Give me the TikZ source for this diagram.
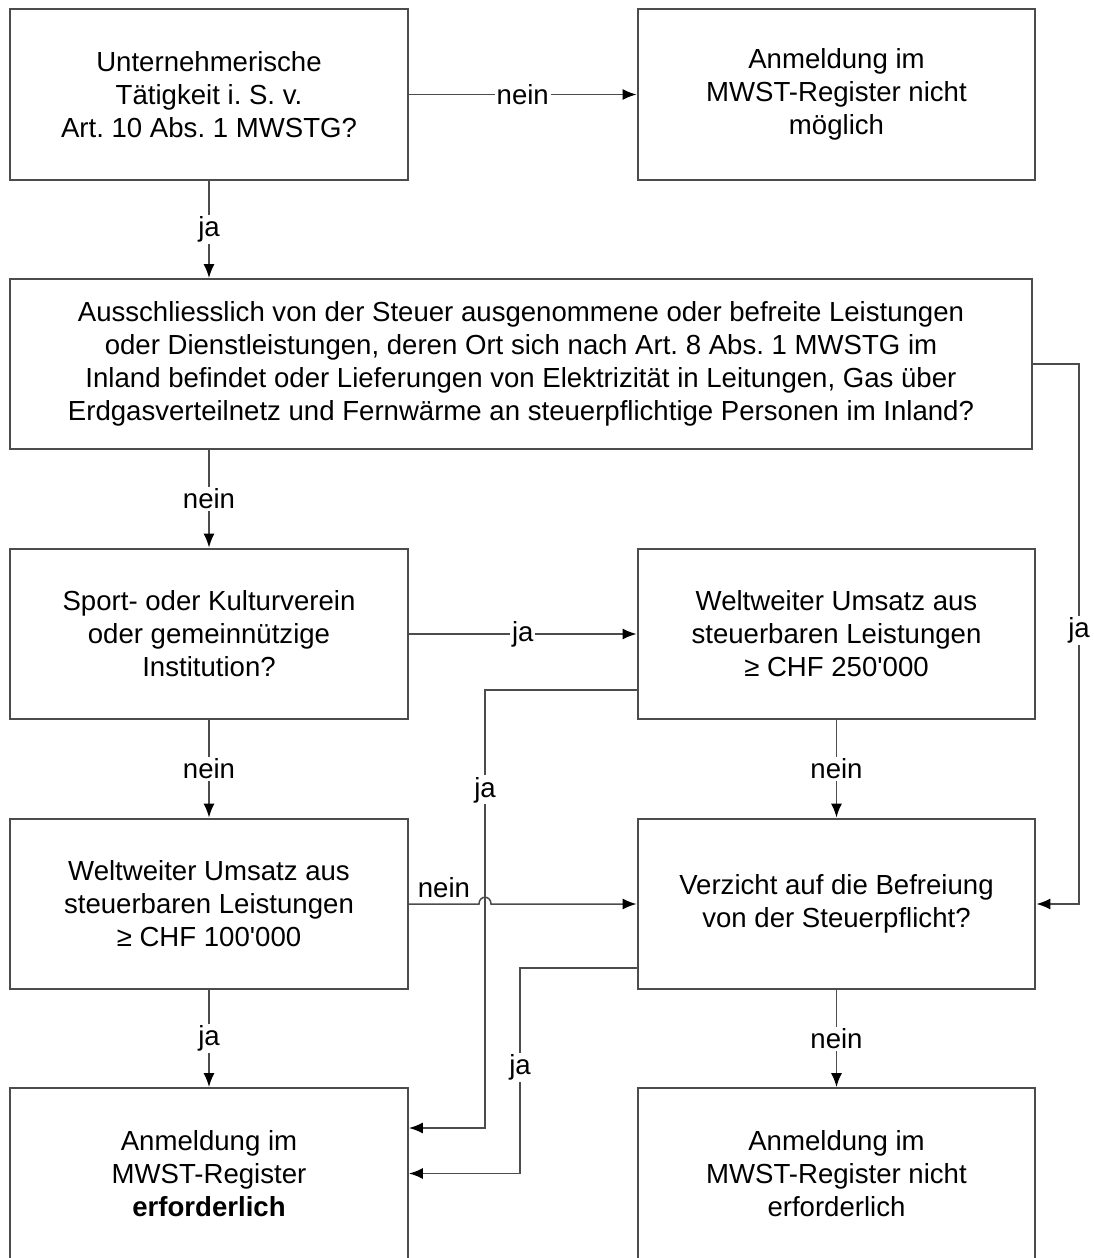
\documentclass[tikz,border=0pt]{standalone}
\usepackage{fontspec}
\setmainfont{Liberation Sans}
\usetikzlibrary{arrows.meta,calc}
\frenchspacing
\tikzset{
	kasten/.style={draw=black!70, line width=0.04cm, minimum width=7.96cm, minimum height=3.42cm, align=center, inner sep=0pt, font=\fontsize{15.7}{18.8}\selectfont},
	pfeil/.style={draw=black!70, line width=0.03cm, -{Latex[length=0.28cm,width=0.22cm,color=black]}},
	marke/.style={fill=white, inner sep=1pt, font=\fontsize{15.7}{18}\selectfont}
}

\begin{document}
\begin{tikzpicture}[x=0.02cm, y=-0.02cm]
		%%%%% START %%%%%
		\useasboundingbox (0,0) rectangle (1094,1258);
		
		\node[kasten] (taetigkeit) at (209,94.5) {Unternehmerische\\Tätigkeit i. S. v.\\Art. 10 Abs. 1 MWSTG?};
		\node[kasten] (unmoeglich) at (836.5,94.5) {Anmeldung im\\MWST-Register nicht\\möglich};
		\node[kasten, minimum width=20.44cm, minimum height=3.4cm] (ausnahme) at (521,364) {Ausschliesslich von der Steuer ausgenommene oder befreite Leistungen\\oder Dienstleistungen, deren Ort sich nach Art. 8 Abs. 1 MWSTG im\\Inland befindet oder Lieferungen von Elektrizität in Leitungen, Gas über\\Erdgasverteilnetz und Fernwärme an steuerpflichtige Personen im Inland?};
		\node[kasten] (verein) at (209,634) {Sport- oder Kulturverein\\oder gemeinnützige\\Institution?};
		\node[kasten] (umsatzG) at (836.5,634) {Weltweiter Umsatz aus\\steuerbaren Leistungen\\≥ CHF 250\textquotesingle 000};
		\node[kasten] (umsatzK) at (209,904) {Weltweiter Umsatz aus\\steuerbaren Leistungen\\≥ CHF 100\textquotesingle 000};
		\node[kasten] (verzicht) at (836.5,904) {Verzicht auf die Befreiung\\von der Steuerpflicht?};
		\node[kasten] (pflicht) at (209,1173.5) {Anmeldung im\\MWST-Register\\\textbf{erforderlich}};
		\node[kasten] (keinepflicht) at (836.5,1173.5) {Anmeldung im\\MWST-Register nicht\\erforderlich};
		
		% obere Reihe
		\draw[pfeil] (taetigkeit) -- node[marke] {nein} (unmoeglich);
		\draw[pfeil] (taetigkeit.south) -- node[marke] {ja} (taetigkeit.south |- ausnahme.north);
		\draw[pfeil] (ausnahme.south -| verein) -- node[marke] {nein} (verein.north);
		\draw[pfeil] (ausnahme.east) -- (1079,364) |- node[marke, pos=0.247] {ja} (verzicht.east);
		
		% mittlere Reihe
		\draw[pfeil] (verein) -- node[marke] {ja} (umsatzG);
		\draw[pfeil] (verein) -- node[marke] {nein} (umsatzK);
		\draw[pfeil] (umsatzG) -- node[marke] {nein} (verzicht);
		\draw[pfeil] ($(umsatzG.west)+(0,56)$) -- (485,690) -- node[marke, pos=0.228] {ja} (485,1128) -- ($(pflicht.east)+(0,-45.5)$);
		\draw[pfeil] (umsatzK) -- node[midway, above, inner sep=3pt, font=\fontsize{15.7}{18}\selectfont] {nein} (479,904) .. controls (479,895) and (491,895) .. (491,904) -- (verzicht);
		
		% untere Reihe
		\draw[pfeil] ($(verzicht.west)+(0,64)$) -- (520,968) -- node[marke, pos=0.483] {ja} (520,1173.5) -- (pflicht.east);
		\draw[pfeil] (umsatzK) -- node[marke] {ja} (pflicht);
		\draw[pfeil] (verzicht) -- node[marke] {nein} (keinepflicht);
		
		%%%%% END %%%%%
	\end{tikzpicture}
\end{document}
